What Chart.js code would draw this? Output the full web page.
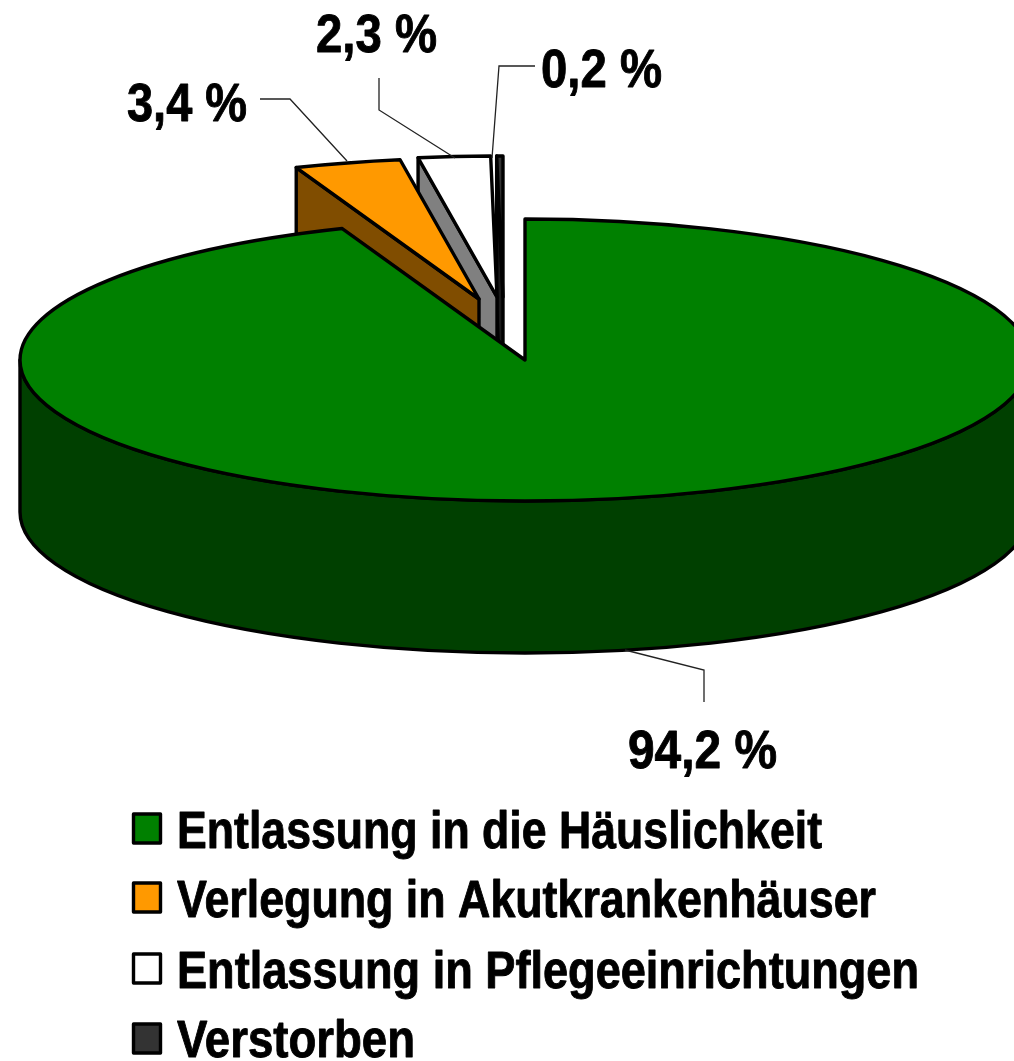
<!DOCTYPE html>
<html lang="de">
<head>
<meta charset="utf-8">
<title>Entlassungsart</title>
<style>html,body{margin:0;padding:0;background:#fff;overflow:hidden}canvas{display:block}</style>
<script src="https://cdn.jsdelivr.net/npm/chart.js@4/dist/chart.umd.min.js"></script>
</head>
<body>
<canvas id="c" width="1014" height="1061"></canvas>
<script>
const categories = ['Entlassung in die Häuslichkeit','Verlegung in Akutkrankenhäuser','Entlassung in Pflegeeinrichtungen','Verstorben'];
const shares = [94.2, 3.4, 2.3, 0.2];
const topColors = ['#008000','#FF9900','#FFFFFF','#333333'];
const wallColors = ['#004000','#804D00','#808080','#1A1A1A'];

// style of the tilted projection: the library's circle (radius 360) is widened and flattened
const widen = 505 / 360, flatten = 141 / 360, depth = 152, edge = 3.4;
const sliceShift = [[0,0],[-46,-61],[-28,-63],[-22,-63]];
const leaders = [
  {text:[628,768], width:149, line:[[625,650],[704,670],[704,702]]},
  {text:[127,121], width:120, line:[[260,99],[290,99],[347,161]]},
  {text:[316,52],  width:121, line:[[379,78],[379,110],[455,158]]},
  {text:[541,87],  width:121, line:[[535,66],[499,66],[492,158]]}
];
const legendRows = [{box:814,base:848,width:645},{box:883,base:917,width:699},{box:954,base:988,width:742},{box:1024,base:1057,width:238}];

function squeezed(ctx, s, x, y, size, target){
  ctx.save();
  ctx.font = 'bold ' + size + 'px "Liberation Sans"';
  ctx.fillStyle = '#000';
  ctx.strokeStyle = '#000';
  ctx.lineWidth = 0.9;
  ctx.lineJoin = 'round';
  ctx.textAlign = 'left';
  ctx.textBaseline = 'alphabetic';
  const sx = target / ctx.measureText(s).width;
  ctx.translate(x, y);
  ctx.scale(sx, 1);
  ctx.fillText(s, 0, 0);
  ctx.strokeText(s, 0, 0);
  ctx.restore();
}

const pie3d = {
  id: 'pie3d',
  beforeDatasetsDraw(chart){
    const ctx = chart.ctx;
    const arcs = chart.getDatasetMeta(0).data;
    ctx.save();
    ctx.lineWidth = edge;
    ctx.lineJoin = 'round';
    ctx.strokeStyle = '#000';
    // back to front: the small exploded slices first, the big slice last
    for (let i = arcs.length - 1; i >= 0; i--) {
      const a = arcs[i];
      const cx = a.x + sliceShift[i][0], cy = a.y + sliceShift[i][1];
      const rx = a.outerRadius * widen, ry = a.outerRadius * flatten;
      const s = a.startAngle, e = a.endAngle;
      // front rim wall
      const from = Math.max(s, 0), to = Math.min(e, Math.PI);
      if (to > from) {
        ctx.beginPath();
        ctx.ellipse(cx, cy, rx, ry, 0, from, to);
        ctx.ellipse(cx, cy + depth, rx, ry, 0, to, from, true);
        ctx.closePath();
        ctx.fillStyle = wallColors[i];
        ctx.fill(); ctx.stroke();
      }
      // radial wall of exploded slices
      if (i > 0) {
        const px = cx + rx * Math.cos(s), py = cy + ry * Math.sin(s);
        ctx.beginPath();
        ctx.moveTo(cx, cy); ctx.lineTo(px, py);
        ctx.lineTo(px, py + depth); ctx.lineTo(cx, cy + depth);
        ctx.closePath();
        ctx.fillStyle = wallColors[i];
        ctx.fill(); ctx.stroke();
      }
      // top face
      ctx.beginPath();
      ctx.moveTo(cx, cy);
      ctx.ellipse(cx, cy, rx, ry, 0, s, e);
      ctx.closePath();
      ctx.fillStyle = topColors[i];
      ctx.fill(); ctx.stroke();
    }
    ctx.restore();
    return false;
  },
  afterDraw(chart){
    const ctx = chart.ctx;
    // leader lines + value labels
    shares.forEach((v, i) => {
      const l = leaders[i];
      ctx.save();
      ctx.strokeStyle = '#222';
      ctx.lineWidth = 1.3;
      ctx.beginPath();
      l.line.forEach((p, k) => k ? ctx.lineTo(p[0], p[1]) : ctx.moveTo(p[0], p[1]));
      ctx.stroke();
      ctx.restore();
      squeezed(ctx, v.toFixed(1).replace('.', ',') + ' %', l.text[0], l.text[1], 54, l.width);
    });
    // legend
    categories.forEach((c, i) => {
      const r = legendRows[i];
      ctx.save();
      ctx.lineWidth = 3.4;
      ctx.lineJoin = 'round';
      ctx.strokeStyle = '#000';
      ctx.fillStyle = topColors[i];
      ctx.beginPath();
      ctx.rect(133.5, r.box, 27, 29);
      ctx.fill(); ctx.stroke();
      ctx.restore();
      squeezed(ctx, c, 177, r.base, 51, r.width);
    });
  }
};

new Chart(document.getElementById('c'), {
  type: 'pie',
  data: {
    labels: categories,
    datasets: [{ data: shares, backgroundColor: topColors, borderWidth: 0, hoverOffset: 0 }]
  },
  options: {
    responsive: false,
    animation: false,
    events: [],
    rotation: 0,
    layout: { padding: { left: 36, right: 0, top: 0, bottom: 341 } },
    plugins: { legend: { display: false }, tooltip: { enabled: false } }
  },
  plugins: [pie3d]
});
</script>
</body>
</html>
